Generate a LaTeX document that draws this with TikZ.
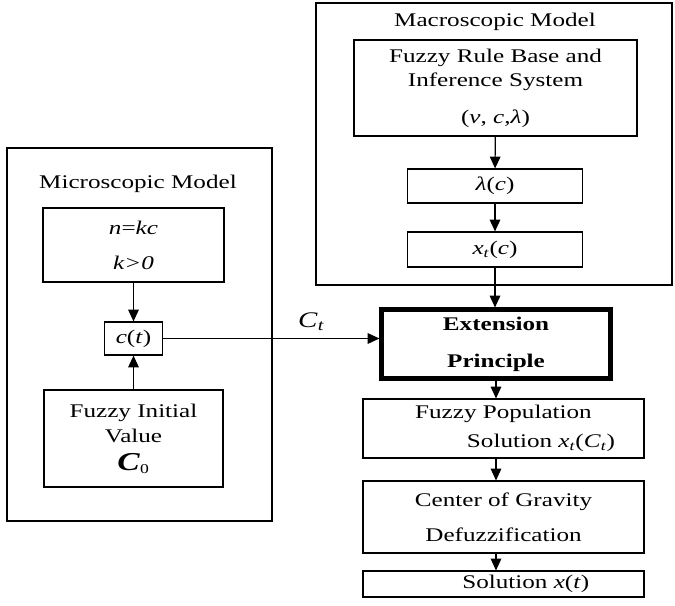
\documentclass[tikz,border=0pt]{standalone}
\usepackage{fontspec}
\setmainfont{Liberation Serif}[FakeStretch=1.3]
\usetikzlibrary{positioning,arrows.meta}

\begin{document}
\begin{tikzpicture}[
    x=0.03cm, y=-0.03cm,
    font=\fontsize{16.5}{19}\selectfont,
    frame/.style={draw, line width=1pt, inner sep=0pt},
    box/.style={draw, line width=1pt, inner sep=0pt, align=center},
    arr/.style={draw, line width=1pt, -{Triangle[length=10pt,width=9pt]}}
  ]
    \useasboundingbox (0,0) rectangle (675,605);

    % microscopic model
    \node[frame, minimum width=7.95cm, minimum height=11.19cm] (micro) at (139.5,334.5) {};
    \node[anchor=base] (microtitle) at (138,188) {Microscopic Model};
    \node[box, minimum width=5.43cm, minimum height=2.22cm] (nkc) at (133.5,245)
      {\textit{n}=\textit{kc}\\[10.9pt]\textit{k>0}};
    \node[box, minimum width=1.74cm, minimum height=0.99cm] (ct) at (133.5,338.5)
      {\textit{c}(\textit{t})};
    \node[box, minimum width=5.37cm, minimum height=2.91cm] (fiv) at (133.5,438.5)
      {Fuzzy Initial\\[2.3pt]Value\\[5pt]{\fontsize{22}{22}\selectfont\textbf{\textit{C}}}\textsubscript{0}};

    % macroscopic model
    \node[frame, minimum width=10.68cm, minimum height=8.46cm] (macro) at (494,144) {};
    \node[anchor=base] (macrotitle) at (495,26) {Macroscopic Model};
    \node[box, minimum width=8.49cm, minimum height=2.88cm] (frb) at (495.5,88)
      {Fuzzy Rule Base and\\[1.5pt]Inference System\\[12.6pt](\textit{v}, \textit{c},\textit{λ})};
    \node[box, minimum width=5.25cm, minimum height=1.02cm] (lam) at (495,186)
      {\textit{λ}(\textit{c})};
    \node[box, minimum width=5.25cm, minimum height=1.05cm] (xt) at (495,249.5)
      {\textit{x}\textsubscript{\textit{t}}(\textit{c})};

    % right column
    \node[box, line width=3.5pt, minimum width=6.87cm, minimum height=2.07cm] (ext) at (496,344)
      {\textbf{Extension}\\[12.6pt]\textbf{Principle}};
    \node[box, minimum width=8.43cm, minimum height=1.77cm] (fp) at (503.5,428.5)
      {Fuzzy Population\\[5.8pt]\hspace*{64pt}Solution \textit{x}\textsubscript{\textit{t}}(\textit{C}\textsubscript{\textit{t}})};
    \node[box, minimum width=8.43cm, minimum height=2.16cm] (cog) at (503.5,517)
      {Center of Gravity\\[10.9pt]Defuzzification};
    \node[box, minimum width=8.43cm, minimum height=0.78cm] (sol) at (503.5,584)
      {\hspace*{38pt}Solution \textit{x}(\textit{t})};

    \draw[arr] (nkc) -- (ct);
    \draw[arr] (fiv) -- (ct);
    \draw[arr] (ct.east) -- node[above, pos=0.685, yshift=3pt, font=\fontsize{19}{19}\selectfont] {\textit{C}\textsubscript{\textit{t}}} (ct.east -| ext.west);
    \draw[arr] (frb) -- (lam);
    \draw[arr] (lam) -- (xt);
    \draw[arr] (xt.south) -- (xt.south |- ext.north);
    \draw[arr] (ext.south) -- (ext.south |- fp.north);
    \draw[arr] (fp.south -| ext.south) -- (cog.north -| ext.south);
    \draw[arr] (cog.south -| ext.south) -- (sol.north -| ext.south);
  \end{tikzpicture}
\end{document}
